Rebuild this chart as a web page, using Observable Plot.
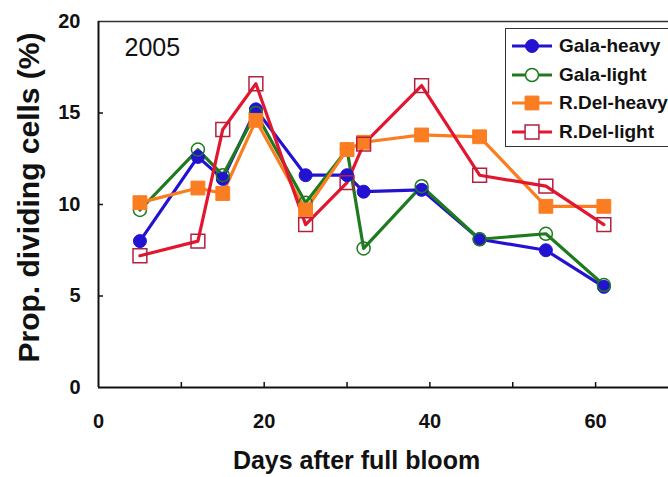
<!DOCTYPE html>
<html>
<head>
<meta charset="utf-8">
<script src="https://cdn.jsdelivr.net/npm/d3@7"></script>
<script src="https://cdn.jsdelivr.net/npm/@observablehq/plot@0.6"></script>
<style>
  html, body { margin: 0; padding: 0; background: #fff; }
  #wrap { position: relative; width: 668px; height: 477px; overflow: hidden; font-family: Arial, "Liberation Sans", sans-serif; }
  #legend { position: absolute; left: 505px; top: 28px; width: 180px; height: 119px; border: 1.5px solid #333; background: #fff; box-sizing: border-box; }
  .row { position: absolute; left: 4px; height: 24px; display: flex; align-items: center; white-space: nowrap; }
  .row span { font-weight: bold; font-size: 19px; color: #111; margin-left: 5px; }
</style>
</head>
<body>
<div id="wrap"><div id="chart"></div><div id="legend"></div></div>
<script>
const days = [5, 12, 15, 19, 25, 30, 32, 39, 46, 54, 61];
const galaHeavy = [8.0, 12.6, 11.4, 15.2, 11.6, 11.6, 10.7, 10.8, 8.1, 7.5, 5.5];
const galaLight = [9.7, 13.0, 11.6, 15.0, 10.1, 13.0, 7.6, 11.0, 8.1, 8.4, 5.6];
const rdelHeavy = [10.1, 10.9, 10.6, 14.6, 9.7, 13.0, 13.4, 13.8, 13.7, 9.9, 9.9];
const rdelLight = [7.2, 8.0, 14.1, 16.6, 8.9, 11.2, 13.3, 16.5, 11.6, 11.0, 8.9];
const seriesNames = ["Gala-heavy", "Gala-light", "R.Del-heavy", "R.Del-light"];
const xTicks = [0, 20, 40, 60];
const xMinorTicks = [10, 20, 30, 40, 50, 60];
const yTicks = [0, 5, 10, 15, 20];
const yTickMarks = [5, 10, 15];
const yearLabel = "2005";
const xTitle = "Days after full bloom";
const yTitle = "Prop. dividing cells (%)";

const styles = [
  {line: "#2412d1", fill: "#2412d1", stroke: "#2412d1", symbol: "circle", r: 6.5, sw: 1},
  {line: "#1e7a1e", fill: "none", stroke: "#1e7a1e", symbol: "circle", r: 6.5, sw: 1.5},
  {line: "#fa7d21", fill: "#fa7d21", stroke: "#fa7d21", symbol: "square", r: 7.8, sw: 1},
  {line: "#e3162f", fill: "none", stroke: "#b3203f", symbol: "square", r: 7.8, sw: 1.5}
];
const allValues = [galaHeavy, galaLight, rdelHeavy, rdelLight];
const series = allValues.map((vals, i) => vals.map((v, j) => ({day: days[j], value: v, series: seriesNames[i]})));

const marks = [];
// frame lines
marks.push(Plot.ruleY([20], {stroke: "#333", strokeWidth: 1.5}));
marks.push(Plot.ruleX([0], {stroke: "#111", strokeWidth: 2}));
marks.push(Plot.ruleY([0], {stroke: "#111", strokeWidth: 2}));
// inward ticks
marks.push(Plot.axisX({ticks: xMinorTicks, tickSize: 5, dy: -5, text: null, label: null, stroke: "#111", strokeWidth: 1.5}));
marks.push(Plot.axisY({ticks: yTickMarks, tickSize: 5, dx: 5, text: null, label: null, stroke: "#111", strokeWidth: 1.5}));
// tick labels
marks.push(Plot.axisX({ticks: xTicks, tickSize: 0, tickPadding: 26, label: null, fontSize: 20, fontWeight: "bold", fill: "#111"}));
marks.push(Plot.axisY({ticks: yTicks, tickSize: 0, tickPadding: 18, label: null, fontSize: 20, fontWeight: "bold", fill: "#111"}));
// lines
series.forEach((d, i) => marks.push(Plot.line(d, {x: "day", y: "value", stroke: styles[i].line, strokeWidth: 3.2})));
// markers
series.forEach((d, i) => marks.push(Plot.dot(d, {x: "day", y: "value", symbol: styles[i].symbol, r: styles[i].r, fill: styles[i].fill, stroke: styles[i].stroke, strokeWidth: styles[i].sw})));
// texts
marks.push(Plot.text([yearLabel], {frameAnchor: "top-left", dx: 26, dy: 17, textAnchor: "start", lineAnchor: "top", fontSize: 25, fontWeight: "normal", fill: "#111"}));
marks.push(Plot.text([xTitle], {frameAnchor: "bottom", dx: -27, dy: 64, lineAnchor: "top", fontSize: 25, fontWeight: "bold", fill: "#111"}));
marks.push(Plot.text([yTitle], {frameAnchor: "left", textAnchor: "middle", rotate: -90, dx: -69, dy: -7, fontSize: 30, fontWeight: "bold", fill: "#111"}));

const chart = Plot.plot({
  width: 668,
  height: 477,
  marginLeft: 98,
  marginRight: 0,
  marginTop: 21,
  marginBottom: 90,
  x: {domain: [0, 68.8], label: null},
  y: {domain: [0, 20], label: null},
  style: {fontFamily: "Arial, 'Liberation Sans', sans-serif", background: "#fff", overflow: "visible"},
  marks
});
document.getElementById("chart").appendChild(chart);

// legend
const legend = document.getElementById("legend");
seriesNames.forEach((name, i) => {
  const s = styles[i];
  const row = document.createElement("div");
  row.className = "row";
  row.style.top = (5 + i * 28.5) + "px";
  const svg = d3.create("svg").attr("width", 44).attr("height", 20);
  svg.append("line").attr("x1", 2).attr("x2", 42).attr("y1", 10).attr("y2", 10).attr("stroke", s.line).attr("stroke-width", 3);
  const sym = s.symbol === "circle" ? d3.symbolCircle : d3.symbolSquare;
  svg.append("path").attr("transform", "translate(22,10)").attr("d", d3.symbol(sym, Math.PI * s.r * s.r)())
    .attr("fill", s.fill === "none" ? "#fff" : s.fill).attr("stroke", s.stroke).attr("stroke-width", s.sw);
  row.appendChild(svg.node());
  const t = document.createElement("span");
  t.textContent = name;
  row.appendChild(t);
  legend.appendChild(row);
});
</script>
</body>
</html>
